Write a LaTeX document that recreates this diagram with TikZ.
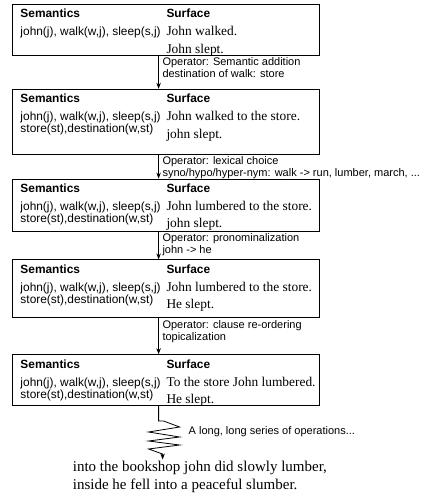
\documentclass[tikz,border=0pt]{standalone}
\usepackage{fontspec}
\setmainfont{Liberation Serif}
\setsansfont{Liberation Sans}
\usetikzlibrary{positioning,arrows.meta}

\newcommand{\semfont}{\sffamily\fontsize{11.9}{12.3}\selectfont}
\newcommand{\surffont}{\rmfamily\fontsize{13.4}{17.5}\selectfont}
\newcommand{\stagetext}[2]{%
  \hspace*{4.5pt}%
  \begin{minipage}[t]{146pt}\semfont\textbf{Semantics}\par\vspace{5.7pt}#1\par\end{minipage}%
  \begin{minipage}[t]{148.5pt}\semfont\textbf{Surface}\par\vspace{0.5pt}\surffont
    \begin{tabular}[t]{@{}l@{}}#2\end{tabular}\par\end{minipage}}

\begin{document}
\begin{tikzpicture}[x=1pt, y=1pt, node distance=33pt,
  stage/.style={draw, line width=0.8pt, minimum width=307pt, inner xsep=4pt, inner ysep=4.5pt, text height=9pt, anchor=north},
  oparrow/.style={line width=0.8pt, -{Stealth[length=6pt,width=4.5pt]}},
  oplabel/.style={anchor=north west, align=left, inner sep=1.5pt, xshift=2pt, font=\sffamily\fontsize{11}{12}\selectfont}]
\useasboundingbox (0,0) rectangle (446,-494);
% the five stages
\node[stage, text depth=33pt] (s1) at (165.5,-4)
  {\stagetext{john(j), walk(w,j), sleep(s,j)}{John walked.\\John slept.}};
\node[stage, text depth=47pt] (s2) [below=33pt of s1]
  {\stagetext{john(j), walk(w,j), sleep(s,j)\\store(st),destination(w,st)}{John walked to the store.\\john slept.}};
\node[stage, text depth=34pt] (s3) [below=24pt of s2]
  {\stagetext{john(j), walk(w,j), sleep(s,j)\\store(st),destination(w,st)}{John lumbered to the store.\\john slept.}};
\node[stage, text depth=40pt] (s4) [below=28pt of s3]
  {\stagetext{john(j), walk(w,j), sleep(s,j)\\store(st),destination(w,st)}{John lumbered to the store.\\He slept.}};
\node[stage, text depth=33pt] (s5) [below=36pt of s4]
  {\stagetext{john(j), walk(w,j), sleep(s,j)\\store(st),destination(w,st)}{To the store John lumbered.\\He slept.}};
% operators
\draw[oparrow] ([xshift=147pt]s1.south west) -- ([xshift=147pt]s2.north west)
  node[oplabel, pos=0] (op1) {Operator: Semantic addition\\destination of walk: store};
\draw[oparrow] ([xshift=147pt]s2.south west) -- ([xshift=147pt]s3.north west)
  node[oplabel, pos=0] (op2) {Operator: lexical choice\\syno/hypo/hyper-nym: walk -> run, lumber, march, ...};
\draw[oparrow] ([xshift=147pt]s3.south west) -- ([xshift=147pt]s4.north west)
  node[oplabel, pos=0] (op3) {Operator: pronominalization\\john -> he};
\draw[oparrow] ([xshift=147pt]s4.south west) -- ([xshift=147pt]s5.north west)
  node[oplabel, pos=0] (op4) {Operator: clause re-ordering\\topicalization};
% the long series
\node[anchor=north west, align=left, inner sep=1.5pt, font=\rmfamily\fontsize{15}{17.6}\selectfont] (verse) at (71.2,-459.5)
  {into the bookshop john did slowly lumber,\\inside he fell into a peaceful slumber.};
\node[oplabel, anchor=west] (oplong) at (185,-432) {A long, long series of operations...};
\coordinate (zz) at ([xshift=147pt]s5.south west);
\coordinate (zzend) at ([xshift=4pt]zz);
\draw[oparrow] (zz) -- ++(0,-15) -- ++(5,0) -- ++(16,-6) -- ++(-31,-5) -- ++(31,-5) -- ++(-31,-4)
  -- ++(31,-4) -- ++(-31,-4) -- ++(14,-5) -- (zzend |- verse.north);
\end{tikzpicture}
\end{document}
